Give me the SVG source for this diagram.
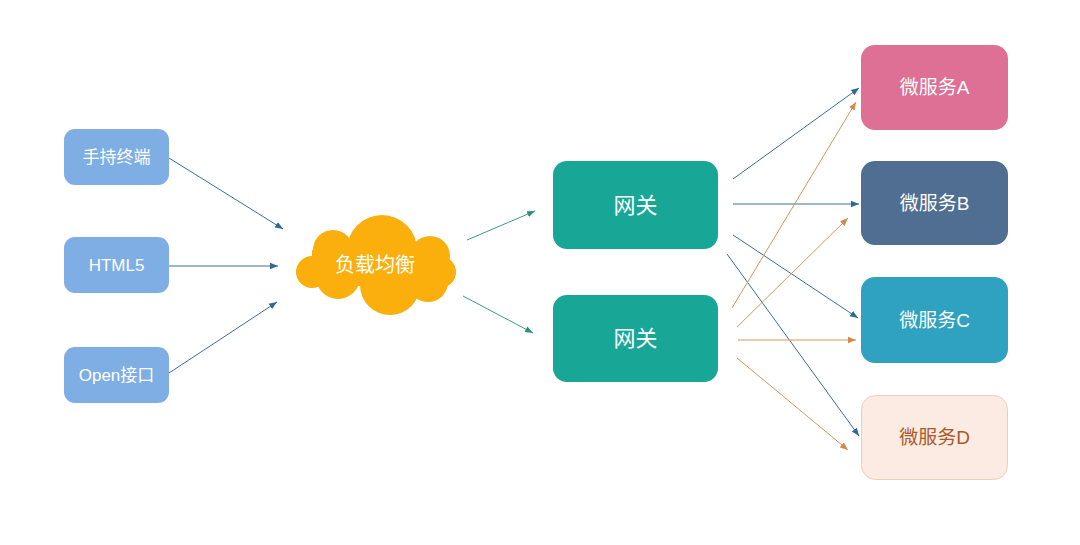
<svg xmlns="http://www.w3.org/2000/svg" width="1080" height="545" viewBox="0 0 1080 545">
<defs>
<style>
.t{font-family:"Liberation Sans","Noto Sans CJK SC",sans-serif;fill:#fff;text-anchor:middle;dominant-baseline:central}
.cb{stroke:#3a6f96;stroke-width:1;fill:none;marker-end:url(#ab)}
.co{stroke:#d8955a;stroke-width:1;fill:none;marker-end:url(#ao)}
.cg{stroke:#3a9a8a;stroke-width:1;fill:none;marker-end:url(#ag)}
</style>
<marker id="ab" viewBox="0 0 10 10" refX="10" refY="5" markerWidth="8" markerHeight="8" markerUnits="userSpaceOnUse" orient="auto"><path d="M0,1 L10,5 L0,9 z" fill="#2f6a94"/></marker>
<marker id="ao" viewBox="0 0 10 10" refX="10" refY="5" markerWidth="8" markerHeight="8" markerUnits="userSpaceOnUse" orient="auto"><path d="M0,1 L10,5 L0,9 z" fill="#d4884a"/></marker>
<marker id="ag" viewBox="0 0 10 10" refX="10" refY="5" markerWidth="8" markerHeight="8" markerUnits="userSpaceOnUse" orient="auto"><path d="M0,1 L10,5 L0,9 z" fill="#2e8f80"/></marker>
</defs>
<rect width="1080" height="545" fill="#fff"/>
<g id="connectors">
<line class="cb" x1="169" y1="158" x2="283" y2="229"/>
<line class="cb" x1="169" y1="266" x2="278" y2="266"/>
<line class="cb" x1="169" y1="373" x2="277" y2="302"/>
<line class="cg" x1="467" y1="240" x2="535" y2="211"/>
<line class="cg" x1="463" y1="296" x2="533" y2="333"/>
<line class="cb" x1="733" y1="179" x2="859" y2="88"/>
<line class="cb" x1="733" y1="204" x2="859" y2="204"/>
<line class="cb" x1="733" y1="235" x2="858" y2="318"/>
<line class="cb" x1="727" y1="254" x2="859" y2="436"/>
<line class="co" x1="732" y1="308" x2="856" y2="102"/>
<line class="co" x1="737" y1="327" x2="848" y2="218"/>
<line class="co" x1="738" y1="340" x2="856" y2="340"/>
<line class="co" x1="737" y1="358" x2="848" y2="450"/>
</g>
<g id="n-handheld"><rect x="64" y="129" width="105" height="56" rx="11" fill="#7eaee3"/><text class="t" x="116.5" y="157" font-size="17">手持终端</text></g>
<g id="n-html5"><rect x="64" y="237" width="105" height="56" rx="11" fill="#7eaee3"/><text class="t" x="116.5" y="265" font-size="17">HTML5</text></g>
<g id="n-open"><rect x="64" y="347" width="105" height="56" rx="11" fill="#7eaee3"/><text class="t" x="116.5" y="375" font-size="17">Open接口</text></g>
<g id="n-lb" fill="#fbaf0c">
<circle cx="312" cy="272" r="16"/>
<circle cx="333" cy="250" r="20"/>
<circle cx="382" cy="250" r="35"/>
<circle cx="430" cy="256" r="20"/>
<circle cx="440" cy="272" r="16"/>
<circle cx="338" cy="277" r="22"/>
<circle cx="390" cy="285" r="30"/>
<circle cx="428" cy="282" r="20"/>
<rect x="312" y="250" width="130" height="36"/>
<text class="t" x="375" y="265" font-size="20">负载均衡</text>
</g>
<g id="n-gw1"><rect x="553" y="161" width="165" height="88" rx="14" fill="#18a796"/><text class="t" x="635.5" y="205" font-size="22">网关</text></g>
<g id="n-gw2"><rect x="553" y="295" width="165" height="87" rx="14" fill="#18a796"/><text class="t" x="635.5" y="338" font-size="22">网关</text></g>
<g id="n-a"><rect x="861" y="45" width="147" height="85" rx="14" fill="#dd7094"/><text class="t" x="934.5" y="87" font-size="19">微服务A</text></g>
<g id="n-b"><rect x="861" y="161" width="147" height="84" rx="14" fill="#4f6e92"/><text class="t" x="934.5" y="203" font-size="19">微服务B</text></g>
<g id="n-c"><rect x="861" y="277" width="147" height="86" rx="14" fill="#2ea2c0"/><text class="t" x="934.5" y="320" font-size="19">微服务C</text></g>
<g id="n-d"><rect x="861.5" y="395.5" width="146" height="84" rx="14" fill="#fcebe3" stroke="#f1cbb9"/><text class="t" x="934.5" y="437" font-size="19" style="fill:#a85a2a">微服务D</text></g>
</svg>
